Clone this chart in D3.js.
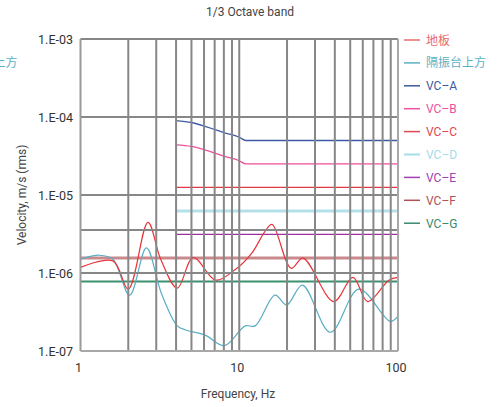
<!DOCTYPE html>
<html>
<head>
<meta charset="utf-8">
<script src="https://cdn.jsdelivr.net/npm/d3@7"></script>
<style>
  body { margin: 0; background: #fff; }
  svg text { font-family: Roboto, "Noto Sans CJK SC", sans-serif; }
</style>
</head>
<body>
<svg id="chart" width="501" height="407"></svg>
<script>
// frequencies / values
let floorFreq = [1, 1.6, 2.0, 2.66, 3.2, 4.07, 5.13, 7.1, 9.4, 12, 14.5, 16.1, 21.2, 25.2, 39.4, 52, 64.5, 87.6, 100];
let floorVal  = [1.18e-6, 1.43e-6, 6.2e-7, 4.47e-6, 1.5e-6, 6.4e-7, 1.58e-6, 8.1e-7, 1.1e-6, 1.8e-6, 3.4e-6, 4.2e-6, 1.15e-6, 1.55e-6, 4.3e-7, 8.8e-7, 4.3e-7, 8.1e-7, 8.8e-7];

let tableFreq = [1, 1.32, 1.6, 2.04, 2.6, 3.23, 4.07, 4.6, 6.1, 8.07, 10.9, 12.6, 16.8, 19.9, 25, 37.5, 56.7, 89.5, 100];
let tableVal  = [1.5e-6, 1.69e-6, 1.5e-6, 5.2e-7, 2.1e-6, 5.5e-7, 2.1e-7, 1.86e-7, 1.6e-7, 1.17e-7, 2.1e-7, 2.1e-7, 5.2e-7, 3.9e-7, 7e-7, 1.74e-7, 6.2e-7, 2.4e-7, 2.8e-7];

let vcCurveFreq = [4, 5, 6.3, 8, 10, 11, 100];
let vcAVal = [9e-5, 8.5e-5, 7.4e-5, 6.3e-5, 5.5e-5, 5e-5, 5e-5];
let vcBVal = [4.4e-5, 4.2e-5, 3.7e-5, 3.15e-5, 2.75e-5, 2.5e-5, 2.5e-5];

let vcFlatNames = ["VC–C", "VC–D", "VC–E", "VC–F", "VC–G"];
let vcFlatVal   = [1.25e-5, 6.25e-6, 3.12e-6, 1.56e-6, 7.8e-7];
let vcFlatStart = [4, 4, 4, 1, 1];

let legendNames = ["地板", "隔振台上方", "VC–A", "VC–B", "VC–C", "VC–D", "VC–E", "VC–F", "VC–G"];

let xGrid = [2, 3, 4, 5, 6, 7, 8, 9, 10, 20, 30, 40, 50, 60, 70, 80, 90];
let yGrid = [1e-6, 3.56e-6, 1e-5, 1e-4];
let yTicks = [1e-7, 1e-6, 1e-5, 1e-4, 1e-3];
let yTickLabels = ["1.E-07", "1.E-06", "1.E-05", "1.E-04", "1.E-03"];
let xTicks = [1, 10, 100];

let colors = {
  "地板": "#e8353a", "隔振台上方": "#5aaec4", "VC–A": "#3c5aa6", "VC–B": "#f0509c",
  "VC–C": "#e03a44", "VC–D": "#b4e0ea", "VC–E": "#a02ca0", "VC–F": "#c98a8e", "VC–G": "#3c9070"
};
let textColors = {
  "地板": "#ea6a6a", "隔振台上方": "#5ab2c4", "VC–A": "#3c5aa0", "VC–B": "#f050a0",
  "VC–C": "#e04850", "VC–D": "#a6dce8", "VC–E": "#a040b0", "VC–F": "#b05058", "VC–G": "#3a8a6a"
};
let widths = {"VC–D": 3, "VC–F": 3, "VC–G": 2};

let svg = d3.select("#chart");
let pLeft = 80.5, pRight = 398, pTop = 39, pBottom = 351;

let x = d3.scaleLog().domain([1, 100]).range([pLeft, pRight]);
let y = d3.scaleLog().domain([1e-7, 1e-3]).range([pBottom, pTop]);

let line = d3.line()
    .x(d => x(d[0]))
    .y(d => y(d[1]));

let smooth = d3.line()
    .x(d => x(d[0]))
    .y(d => y(d[1]))
    .curve(d3.curveMonotoneX);

let wavy = d3.line()
    .x(d => x(d[0]))
    .y(d => y(d[1]))
    .curve(d3.curveCatmullRom.alpha(0.5));

let plot = svg.append("g");

// VC criteria lines
plot.append("path")
    .datum(vcCurveFreq.map((f, i) => [f, vcAVal[i]]))
    .attr("d", smooth).attr("fill", "none")
    .attr("stroke", colors["VC–A"]).attr("stroke-width", 1.3);
plot.append("path")
    .datum(vcCurveFreq.map((f, i) => [f, vcBVal[i]]))
    .attr("d", smooth).attr("fill", "none")
    .attr("stroke", colors["VC–B"]).attr("stroke-width", 1.3);

vcFlatNames.forEach(function (n, i) {
  plot.append("path")
      .datum([[vcFlatStart[i], vcFlatVal[i]], [100, vcFlatVal[i]]])
      .attr("d", line).attr("fill", "none")
      .attr("stroke", colors[n]).attr("stroke-width", widths[n] || 1.3);
});

// measured curves
plot.append("path")
    .datum(tableFreq.map((f, i) => [f, tableVal[i]]))
    .attr("d", wavy).attr("fill", "none")
    .attr("stroke", colors["隔振台上方"]).attr("stroke-width", 1.2);
plot.append("path")
    .datum(floorFreq.map((f, i) => [f, floorVal[i]]))
    .attr("d", wavy).attr("fill", "none")
    .attr("stroke", colors["地板"]).attr("stroke-width", 1.2);

// grid on top
let grid = svg.append("g").attr("stroke", "#878787").attr("stroke-width", 2);
grid.selectAll(".vg").data(xGrid).enter().append("line")
    .attr("x1", d => x(d)).attr("x2", d => x(d))
    .attr("y1", pTop).attr("y2", pBottom);
grid.selectAll(".hg").data(yGrid).enter().append("line")
    .attr("x1", pLeft).attr("x2", pRight)
    .attr("y1", d => y(d)).attr("y2", d => y(d));

// frame
svg.append("line").attr("x1", pLeft).attr("x2", pRight).attr("y1", pTop).attr("y2", pTop)
    .attr("stroke", "#878787").attr("stroke-width", 2);
svg.append("line").attr("x1", pLeft).attr("x2", pLeft).attr("y1", pTop).attr("y2", pBottom)
    .attr("stroke", "#9a9a9a").attr("stroke-width", 2);
svg.append("line").attr("x1", pLeft).attr("x2", pRight).attr("y1", pBottom).attr("y2", pBottom)
    .attr("stroke", "#a8a8a8").attr("stroke-width", 2);
svg.append("line").attr("x1", pRight).attr("x2", pRight).attr("y1", pTop).attr("y2", pBottom)
    .attr("stroke", "#a8a8a8").attr("stroke-width", 2);

// tick labels
svg.selectAll(".yl").data(yTicks).enter().append("text")
    .attr("x", 73).attr("y", d => y(d) + 4.5)
    .attr("text-anchor", "end").attr("font-size", 12.5).attr("fill", "#333")
    .text((d, i) => yTickLabels[i]);
svg.selectAll(".xl").data(xTicks).enter().append("text")
    .attr("x", d => x(d) - 2).attr("y", 372)
    .attr("text-anchor", "middle").attr("font-size", 12.5).attr("fill", "#333")
    .text(d => d);

// titles
svg.append("text").attr("x", 250).attr("y", 16).attr("text-anchor", "middle")
    .attr("font-size", 12).attr("fill", "#444").text("1/3 Octave band");
svg.append("text").attr("x", 238).attr("y", 398).attr("text-anchor", "middle")
    .attr("font-size", 12).attr("fill", "#444").text("Frequency, Hz");
svg.append("text").attr("transform", "translate(26,195) rotate(-90)").attr("text-anchor", "middle")
    .attr("font-size", 12).attr("fill", "#444").text("Velocity, m/s (rms)");

// legend
let lg = svg.append("g");
legendNames.forEach(function (n, i) {
  let ly = 40 + i * 22.9;
  lg.append("line").attr("x1", 404).attr("x2", 420).attr("y1", ly).attr("y2", ly)
      .attr("stroke", textColors[n]).attr("stroke-width", n === "VC–D" ? 2 : 1.5);
  lg.append("text").attr("x", 426).attr("y", ly + 4.5)
      .attr("font-size", 12).attr("fill", textColors[n]).text(n);
});
// overflowing copy of the long legend label at the left edge
svg.append("text").attr("x", 17.5).attr("y", 40 + 22.9 + 4.5).attr("text-anchor", "end")
    .attr("font-size", 12).attr("fill", textColors["隔振台上方"]).text("隔振台上方");
</script>
</body>
</html>
